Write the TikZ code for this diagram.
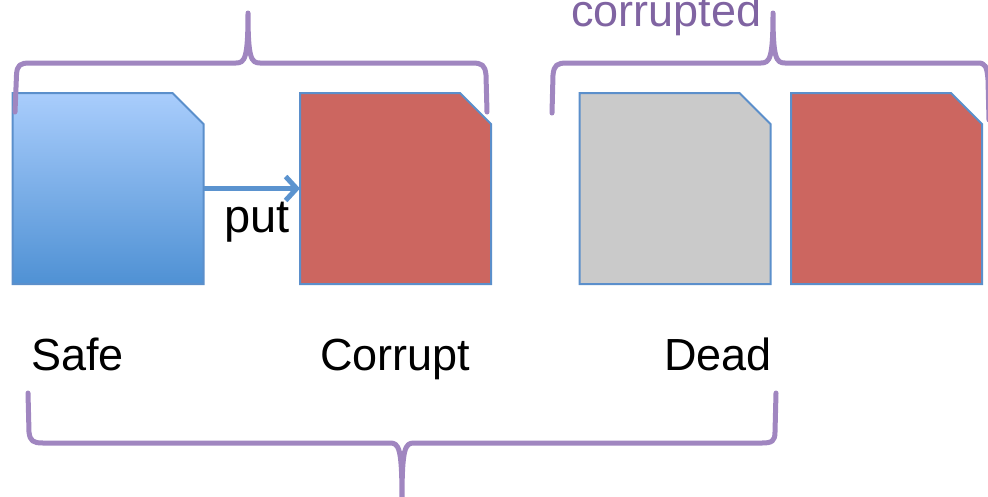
\documentclass[tikz,border=0pt]{standalone}
\usepackage{fontspec}
\setmainfont{Liberation Sans}
\usetikzlibrary{arrows.meta}
\definecolor{boxedge}{HTML}{5B8FCB}
\definecolor{bluetop}{HTML}{A9CDFC}
\definecolor{bluebot}{HTML}{4F91D4}
\definecolor{redfill}{HTML}{CC6660}
\definecolor{grayfill}{HTML}{CACACA}
\definecolor{bracecol}{HTML}{A086C0}
\definecolor{purpletext}{HTML}{8064A2}
\definecolor{arrowcol}{HTML}{5B93CF}
\newcommand{\cutbox}[2]{%
  \path[#2] (#1.north west) -- ([xshift=-31pt]#1.north east) -- ([yshift=-31pt]#1.north east)
    -- (#1.south east) -- (#1.south west) -- cycle;}
\begin{document}
\begin{tikzpicture}[x=1pt,y=-1pt,
  holder/.style={minimum width=191pt, minimum height=191pt, inner sep=0pt, outer sep=0pt},
  boxline/.style={draw=boxedge, line width=2pt, line join=miter},
  shadowbox/.style={fill=black, opacity=0.12, shift={(2pt,-4pt)}},
  brace/.style={draw=bracecol, line width=5pt, line cap=round, line join=round},
  label/.style={font=\fontsize{45}{54}\selectfont, anchor=base west, inner sep=0pt, text=black},
  conn/.style={draw=arrowcol, line width=5pt, -{Straight Barb[length=11pt,width=24pt,line width=5pt]}}]
\useasboundingbox (0,0) rectangle (988,496);
\clip (0,0) rectangle (988,496);

% holders
\node[holder] (safe) at (108,188.5) {};
\node[holder] (corrupt) at (395.5,188.5) {};
\node[holder] (dead) at (675,188.5) {};
\node[holder] (corrupt2) at (886.5,188.5) {};

% shadows
\cutbox{safe}{shadowbox}
\cutbox{corrupt}{shadowbox}
\cutbox{dead}{shadowbox}
\cutbox{corrupt2}{shadowbox}

% boxes
\cutbox{safe}{top color=bluetop, bottom color=bluebot}
\cutbox{safe}{boxline}
\cutbox{corrupt}{fill=redfill, boxline}
\cutbox{dead}{fill=grayfill, boxline}
\cutbox{corrupt2}{fill=redfill, boxline}

% arrow
\draw[conn] (safe.east) -- (corrupt.west);
\node[font=\fontsize{47}{56}\selectfont, anchor=base west, inner sep=0pt] (put) at (224,232) {put};

% labels
\node[label] (lsafe) at (31,370) {Safe};
\node[label] (lcorrupt) at (320,370) {Corrupt};
\node[label] (ldead) at (664,370) {Dead};
\node[label, text=purpletext] (lcorrupted) at (571,26) {corrupted};

% braces
\draw[brace] (15,112) -- (16.5,75) .. controls (17,65) and (20,63) .. (30,63) -- (236,63)
  .. controls (245,63) and (248,58) .. (248,13) .. controls (248,58) and (251,63) .. (260,63)
  -- (472,63) .. controls (482,63) and (485,65) .. (486,75) -- (487,112);
\draw[brace] (552,113) -- (553,75) .. controls (554,65) and (557,63) .. (567,63) -- (761,63)
  .. controls (770,63) and (773,58) .. (773,13) .. controls (773,58) and (776,63) .. (785,63)
  -- (978,63) .. controls (985,63) and (987,66) .. (988,80) -- (989,120);
\draw[brace] (28,393) -- (29,432) .. controls (30,441) and (33,443) .. (43,443) -- (390,443)
  .. controls (399,443) and (402,448) .. (402,500) .. controls (402,448) and (405,443) .. (414,443)
  -- (762,443) .. controls (772,443) and (775,441) .. (775,432) -- (776,393);
\end{tikzpicture}
\end{document}
